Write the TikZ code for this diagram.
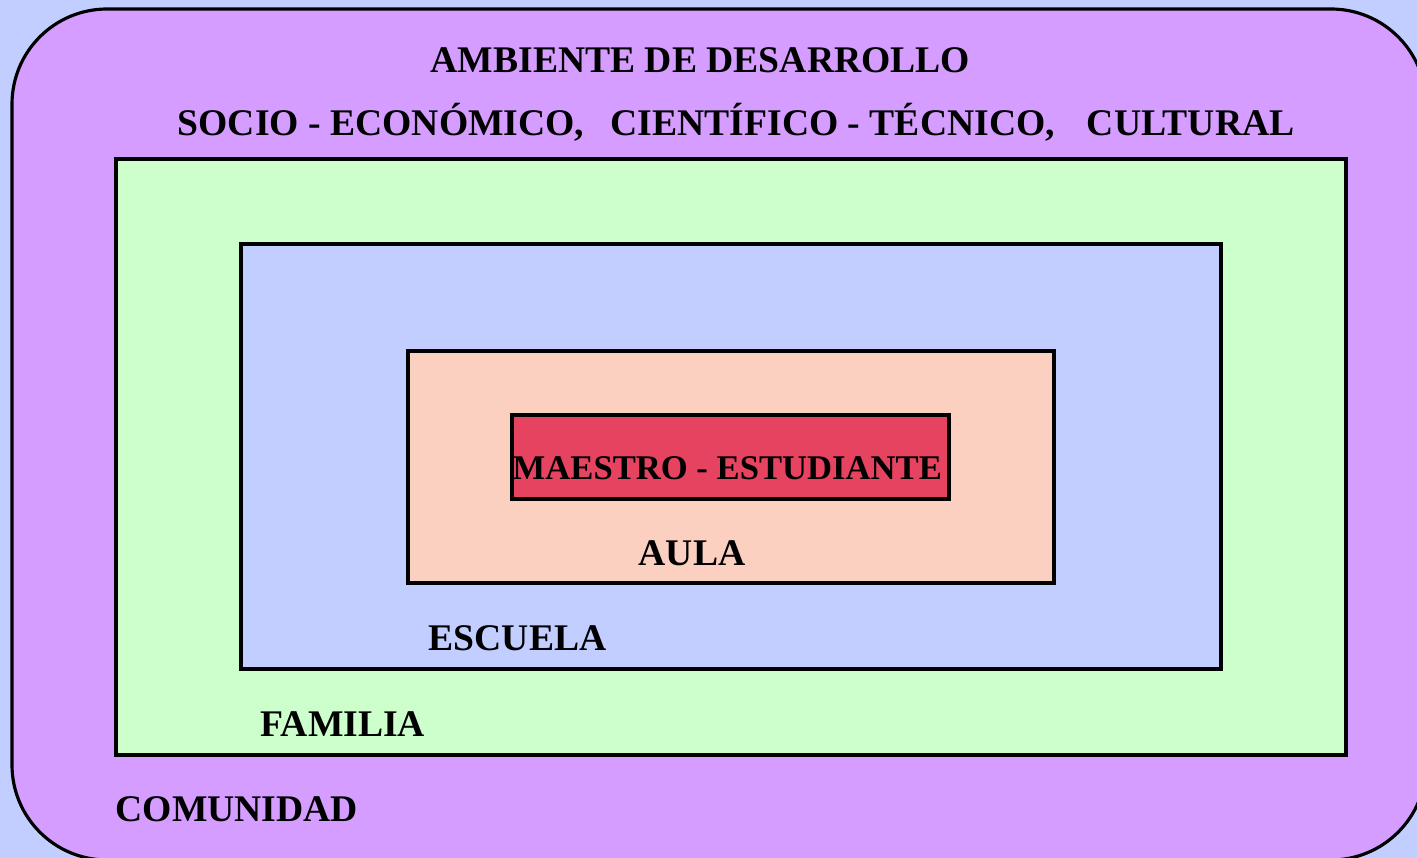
\documentclass[tikz,border=0pt]{standalone}
\usepackage{fontspec}
\setmainfont{Liberation Serif}
\definecolor{fondo}{RGB}{194,206,255}
\definecolor{morado}{RGB}{213,157,255}
\definecolor{verde}{RGB}{204,255,204}
\definecolor{azul}{RGB}{194,206,255}
\definecolor{salmon}{RGB}{252,208,192}
\definecolor{rojo}{RGB}{230,67,96}
\begin{document}
\begin{tikzpicture}[x=0.01cm,y=-0.01cm,
  caja/.style={draw=black, line width=0.9pt},
  rotulo/.style={anchor=base west, inner sep=0pt, font=\fontsize{10.7}{12}\selectfont\bfseries}]
\useasboundingbox (0,0) rectangle (1417,858);
\fill[fondo] (0,0) rectangle (1417,858);
\begin{scope}
\clip (0,0) rectangle (1417,858);
\draw[caja, fill=morado, rounded corners=0.95cm] (12,9) rectangle (1426,860);
\end{scope}
\draw[caja, fill=verde] (116,159) rectangle (1346,755);
\draw[caja, fill=azul] (241,244) rectangle (1221,669);
\draw[caja, fill=salmon] (408,351) rectangle (1054,583);
\draw[caja, fill=rojo] (512,415) rectangle (949,499);
\node[rotulo] (ambiente) at (430,73) {AMBIENTE DE DESARROLLO};
\node[rotulo] (sectores) at (177,136) {SOCIO - ECONÓMICO,\hspace{0.7em}CIENTÍFICO - TÉCNICO,\hspace{0.85em}CULTURAL};
\node[rotulo, font=\fontsize{9.85}{12}\selectfont\bfseries] (relacion) at (512,480) {MAESTRO - ESTUDIANTE};
\node[rotulo] (aula) at (638,566) {AULA};
\node[rotulo] (escuela) at (428,651) {ESCUELA};
\node[rotulo] (familia) at (260,737) {FAMILIA};
\node[rotulo] (comunidad) at (115,822) {COMUNIDAD};
\end{tikzpicture}
\end{document}
